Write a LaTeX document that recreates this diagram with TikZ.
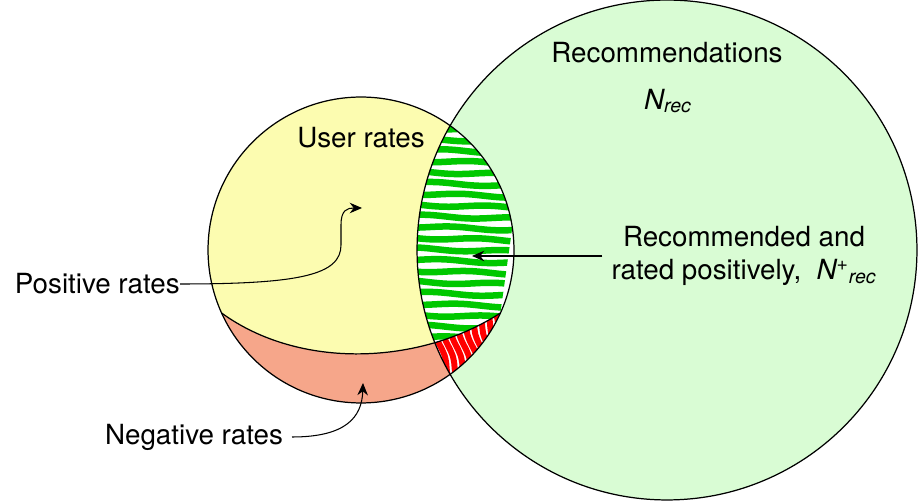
\documentclass[tikz,border=0pt]{standalone}
\usepackage{fontspec}
\setmainfont{TeX Gyre Heros}
\usetikzlibrary{arrows.meta}

\definecolor{recgreen}{RGB}{217,252,212}
\definecolor{useryellow}{RGB}{252,252,176}
\definecolor{negsalmon}{RGB}{246,166,138}
\definecolor{stripegreen}{RGB}{0,200,0}
\definecolor{stripered}{RGB}{255,0,0}

\tikzset{
  txt/.style={font=\fontsize{15.8}{18.8}\selectfont, inner sep=1pt},
  pointer/.style={-{Stealth[length=7pt,width=6pt]}, line width=0.6pt},
  gstripe/.style={stripegreen, line width=3.7pt, line cap=round},
  rstripe/.style={stripered, line width=3.4pt, line cap=round},
  rim/.style={line width=0.7pt},
}

\begin{document}
\begin{tikzpicture}[x=0.02cm, y=-0.02cm]
    \useasboundingbox (0,0) rectangle (919,502);
    \coordinate (rc) at (667,250);
    \coordinate (uc) at (361,250);
    \coordinate (dl) at (221.6,313);
    \coordinate (dr) at (500.4,313);

    % circles
    \fill[recgreen] (rc) circle[radius=5cm];
    \fill[useryellow] (uc) circle[radius=3.06cm];
    \begin{scope}
        \clip (uc) circle[radius=3.06cm];
        \fill[negsalmon] (dl) .. controls (300,370) and (420,365) .. (dr)
            -- (530,420) -- (200,420) -- cycle;
        % overlap
        \clip (rc) circle[radius=5cm];
        \fill[white] (400,100) rectangle (530,400);
        \begin{scope}
            \clip (dl) .. controls (300,370) and (420,365) .. (dr)
                -- (530,100) -- (200,100) -- cycle;
            \foreach \y in {129,140,...,350}
                \draw[gstripe] plot[domain=405:525, samples=20, smooth]
                    (\x, {\y + 0.03*(\x-460) + 1.2*sin(4*(\x-400) + 23*(\y-100))});
        \end{scope}
        \begin{scope}
            \clip (dl) .. controls (300,370) and (420,365) .. (dr)
                -- (530,420) -- (200,420) -- cycle;
            \foreach \x in {404,412,...,516}
                \draw[rstripe] plot[variable=\s, domain=0:1, samples=12, smooth]
                    ({\x + 24*\s + 1.5*sin(700*\s)}, {305 + 80*\s});
        \end{scope}
    \end{scope}
    \draw[rim] (rc) circle[radius=5cm];
    \draw[rim] (uc) circle[radius=3.06cm];
    \draw[rim] (dl) .. controls (300,370) and (420,365) .. (dr);

    % labels
    \node[txt] (recs) at (667,53) {Recommendations};
    \node[txt] (nrec) at (668,101) {\itshape N\textsubscript{rec}};
    \node[txt] (user) at (361,138) {User rates};
    \node[txt, anchor=east, inner sep=0pt] (pos) at (180,284) {Positive rates};
    \node[txt, anchor=east, inner sep=5pt] (neg) at (292,437) {Negative rates};
    \node[txt, align=center, inner sep=5pt] (both) at (744,256)
        {Recommended and\\rated positively,\ \ {\itshape N\textsuperscript{+}\textsubscript{rec}}};

    \coordinate (ptip) at (362,208);
    \coordinate (ntip) at (363,383);
    \coordinate (btip) at (472,256);

    \draw[pointer] (pos.east) .. controls (300,284) and (341,275) .. (341,245)
        -- (341,225) .. controls (341,210) and (347,208) .. (ptip);
    \draw[pointer] (neg.east) .. controls (345,437) and (362,418) .. (ntip);
    \draw[pointer] (both.west) -- (btip);
\end{tikzpicture}
\end{document}
